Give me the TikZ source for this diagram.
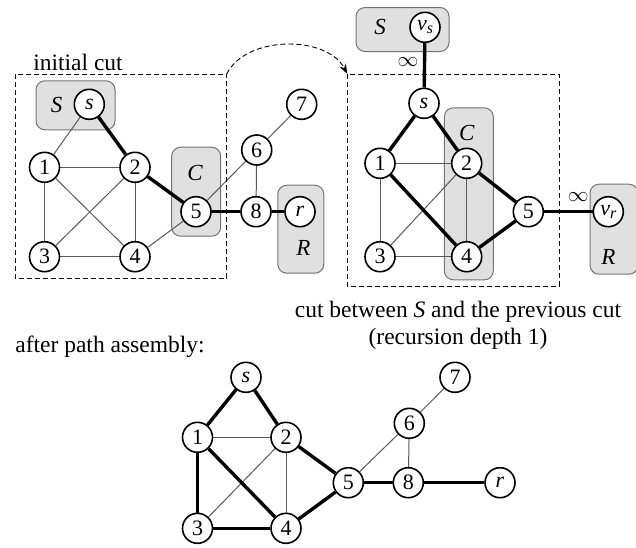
\documentclass[tikz,border=0pt]{standalone}
\usepackage{fontspec}
\setmainfont{Liberation Serif}
\usetikzlibrary{arrows.meta}
\pgfdeclarelayer{boxes}
\pgfdeclarelayer{edges}
\pgfsetlayers{boxes,edges,main}
\begin{document}
\begin{tikzpicture}[x=1pt,y=-1pt,
  vtx/.style={circle,draw,line width=1.6pt,fill=white,minimum size=30pt,inner sep=0pt,font=\fontsize{22}{22}\selectfont},
  thinedge/.style={line width=1pt,draw=black!65},
  thickedge/.style={line width=3.4pt,draw=black},
  grpbox/.style={draw=black!55,fill=black!12,line width=1pt,rounded corners=9pt,inner sep=0pt},
  grplabel/.style={font=\fontsize{23}{23}\selectfont\itshape,inner sep=0pt},
  cutbox/.style={draw,dashed,dash pattern=on 5pt off 3pt,line width=0.9pt},
  txt/.style={font=\fontsize{23.5}{28}\selectfont,inner sep=0pt},
  inflab/.style={font=\fontsize{21}{21}\selectfont,inner sep=0pt}
]
\useasboundingbox (0,0) rectangle (636,547);

% ---------- group boxes ----------
\begin{pgfonlayer}{boxes}
\node[grpbox,minimum width=79pt,minimum height=49pt] (aSbox) at (75.5,105.3) {};
\node[grpbox,minimum width=49pt,minimum height=89pt] (aCbox) at (196.2,191.7) {};
\node[grpbox,minimum width=46pt,minimum height=88pt] (aRbox) at (300.8,229.2) {};
\node[grpbox,minimum width=93pt,minimum height=44pt] (bSbox) at (402.5,29.5) {};
\node[grpbox,minimum width=49pt,minimum height=172pt] (bCbox) at (468.8,193.8) {};
\node[grpbox,minimum width=48pt,minimum height=90pt] (bRbox) at (614,229.2) {};
\end{pgfonlayer}

% ---------- first graph: initial cut ----------
\node[grplabel] (aSl) at (56.7,105) {S};
\node[grplabel] (aCl) at (195,173.3) {C};
\node[grplabel] (aRl) at (303.3,248.3) {R};
\coordinate (acutA) at (15,74);
\coordinate (acutB) at (226.7,278.3);
\coordinate (acutTR) at (226.7,74);
\draw[cutbox] (acutA) rectangle (acutB);
\node[txt] (ainit) at (78,62) {initial cut};

\node[vtx] (as) at (89.3,104.3) {\textit{s}};
\node[vtx] (a1) at (44.5,167.3) {1};
\node[vtx] (a2) at (135,167.3) {2};
\node[vtx] (a3) at (44.5,256.7) {3};
\node[vtx] (a4) at (135,256.7) {4};
\node[vtx] (a5) at (196,211.7) {5};
\node[vtx] (a6) at (256.7,150) {6};
\node[vtx] (a7) at (301.7,104.3) {7};
\node[vtx] (a8) at (256,211.7) {8};
\node[vtx] (ar) at (300,211.7) {\textit{r}};

% ---------- second graph ----------
\node[grplabel] (bSl) at (380,26.7) {S};
\node[grplabel] (bCl) at (466.7,133.3) {C};
\node[grplabel] (bRl) at (608.3,256.7) {R};
\coordinate (bcutA) at (347.3,74);
\coordinate (bcutB) at (559.3,286);
\draw[cutbox] (bcutA) rectangle (bcutB);

\node[vtx] (bvs) at (425,27.3) {\textit{v}\raisebox{-3pt}{\fontsize{16}{16}\selectfont\textit{s}}};
\node[vtx] (bs) at (424,103.3) {\textit{s}};
\node[vtx] (b1) at (380,163.3) {1};
\node[vtx] (b2) at (466.7,163.3) {2};
\node[vtx] (b3) at (380,256.7) {3};
\node[vtx] (b4) at (466.7,256.7) {4};
\node[vtx] (b5) at (528.3,211.7) {5};
\node[vtx] (bvr) at (608.3,211.7) {\textit{v}\raisebox{-3pt}{\fontsize{16}{16}\selectfont\textit{r}}};
\node[inflab] (binf1) at (408,62) {$\infty$};
\node[inflab] (binf2) at (578.3,197) {$\infty$};

\node[txt] (bcap1) at (458,312) {cut between \textit{S} and the previous cut};
\node[txt] (bcap2) at (458,339) {(recursion depth 1)};

% arc between the cuts
\draw[dashed,dash pattern=on 5pt off 3pt,line width=0.9pt,-{Stealth[length=10pt,width=7pt]}]
  (acutTR) .. controls (246,35) and (327,35) .. (bcutA);

% ---------- third graph ----------
\node[txt] (cafter) at (110,347) {after path assembly:};
\node[vtx] (cs) at (246,377.3) {\textit{s}};
\node[vtx] (c1) at (197.5,437.3) {1};
\node[vtx] (c2) at (286,437.3) {2};
\node[vtx] (c3) at (197.5,528.3) {3};
\node[vtx] (c4) at (286,528.3) {4};
\node[vtx] (c5) at (348.3,482.7) {5};
\node[vtx] (c6) at (409.3,423.3) {6};
\node[vtx] (c7) at (455,377.3) {7};
\node[vtx] (c8) at (408.3,482.7) {8};
\node[vtx] (cr) at (500,482.7) {\textit{r}};

% ---------- edges ----------
\begin{pgfonlayer}{edges}
% first graph
\draw[thinedge] (as) -- (a1);
\draw[thinedge] (a1) -- (a2);
\draw[thinedge] (a1) -- (a3);
\draw[thinedge] (a1) -- (a4);
\draw[thinedge] (a2) -- (a3);
\draw[thinedge] (a2) -- (a4);
\draw[thinedge] (a3) -- (a4);
\draw[thinedge] (a4) -- (a5);
\draw[thinedge] (a5) -- (a6);
\draw[thinedge] (a6) -- (a7);
\draw[thinedge] (a6) -- (a8);
\draw[thickedge] (as) -- (a2);
\draw[thickedge] (a2) -- (a5);
\draw[thickedge] (a5) -- (a8);
\draw[thickedge] (a8) -- (ar);
% second graph
\draw[thinedge] (b1) -- (b2);
\draw[thinedge] (b1) -- (b3);
\draw[thinedge] (b2) -- (b3);
\draw[thinedge] (b2) -- (b4);
\draw[thinedge] (b3) -- (b4);
\draw[thickedge] (bvs) -- (bs);
\draw[thickedge] (bs) -- (b1);
\draw[thickedge] (bs) -- (b2);
\draw[thickedge] (b1) -- (b4);
\draw[thickedge] (b2) -- (b5);
\draw[thickedge] (b4) -- (b5);
\draw[thickedge] (b5) -- (bvr);
% third graph
\draw[thinedge] (c1) -- (c2);
\draw[thinedge] (c2) -- (c3);
\draw[thinedge] (c2) -- (c4);
\draw[thinedge] (c5) -- (c6);
\draw[thinedge] (c6) -- (c7);
\draw[thinedge] (c6) -- (c8);
\draw[thickedge] (cs) -- (c1);
\draw[thickedge] (cs) -- (c2);
\draw[thickedge] (c1) -- (c3);
\draw[thickedge] (c1) -- (c4);
\draw[thickedge] (c3) -- (c4);
\draw[thickedge] (c2) -- (c5);
\draw[thickedge] (c4) -- (c5);
\draw[thickedge] (c5) -- (c8);
\draw[thickedge] (c8) -- (cr);
\end{pgfonlayer}
\end{tikzpicture}
\end{document}
